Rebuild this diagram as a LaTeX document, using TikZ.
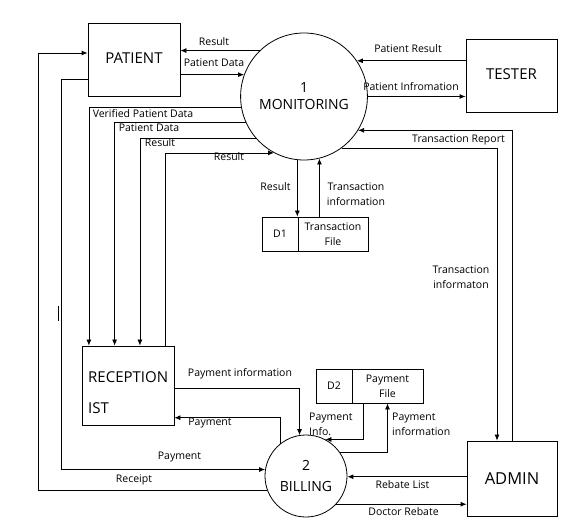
\documentclass[tikz,border=0pt]{standalone}
\usepackage{fontspec}
\setmainfont{Open Sans}
\usetikzlibrary{arrows.meta,shapes.geometric}

\begin{document}
\begin{tikzpicture}[x=1pt,y=-1pt,
		entity/.style={draw,line width=0.8pt,inner sep=0pt,font=\fontsize{15}{18}\selectfont},
		process/.style={draw,ellipse,line width=0.8pt,inner sep=0pt,align=center,font=\fontsize{14}{17}\selectfont},
		store/.style={draw,line width=0.8pt,inner sep=0pt,minimum height=34,align=center,font=\fontsize{10.5}{15}\selectfont},
		lbl/.style={inner sep=0pt,align=center,font=\fontsize{10.5}{15}\selectfont},
		flow/.style={line width=0.8pt,-{Latex[length=6pt,width=5pt]}}]
			\useasboundingbox (0,0) rectangle (573,529);

			% external entities
			\node[entity,minimum width=92,minimum height=73,text depth=3pt] (pat) at (134,59.5) {PATIENT};
			\node[entity,minimum width=91,minimum height=73,text depth=3pt] (tes) at (511.5,75.5) {TESTER};
			\node[entity,minimum width=92,minimum height=79] (rec) at (128,385.5) {};
			\node[lbl,anchor=west,align=left,font=\fontsize{15}{18}\selectfont] (rectext) at (88,392.5) {RECEPTION\\[12.5pt]IST};
			\node[entity,minimum width=90,minimum height=75,font=\fontsize{16.5}{20}\selectfont] (adm) at (512,478.5) {ADMIN};

			% processes
			\node[process,minimum width=116,minimum height=127] (mon) at (304,96.5) {1\\MONITORING};
			\node[process,circle,minimum size=82] (bil) at (306,476) {2\\[4pt]BILLING};

			% data stores
			\node[store,minimum width=36] (d1) at (280,234) {D1};
			\node[store,minimum width=70] (d1f) at (333,234) {Transaction\\File};
			\node[store,minimum width=36] (d2) at (334,386) {D2};
			\node[store,minimum width=71] (d2f) at (387.5,386) {Payment\\File};

			% patient <-> monitoring
			\draw[flow] (mon.134.5) -- (pat.east |- mon.134.5);
			\draw[flow] (pat.east |- mon.160.2) -- (mon.160.2);
			\node[lbl] (lres1) at (214,42) {Result};
			\node[lbl] (lpd1) at (214,63) {Patient Data};

			% tester <-> monitoring
			\draw[flow] (tes.west |- mon.34.5) -- (mon.34.5);
			\draw[flow] (mon.0) -- (tes.west |- mon.0);
			\node[lbl] (lpr) at (408,49) {Patient Result};
			\node[lbl] (lpi) at (411,87) {Patient Infromation};

			% monitoring <-> receptionist
			\draw[flow] (mon.190.1) -| ([xshift=7.3pt]rec.north west);
			\draw[flow] (mon.204.6) -| ([xshift=33pt]rec.north west);
			\draw[flow] (mon.221.8) -| ([xshift=58.3pt]rec.north west);
			\draw[flow] ([xshift=83.7pt]rec.north west) |- (mon.242.5);
			\node[lbl] (lvpd) at (143,113.5) {Verified Patient Data};
			\node[lbl] (lpd2) at (149,128) {Patient Data};
			\node[lbl] (lres2) at (160,143) {Result};
			\node[lbl] (lres3) at (229,157) {Result};

			% monitoring <-> D1
			\draw[flow] (mon.-96.6) -- (mon.-96.6 |- d1.north);
			\draw[flow] (d1f.north -| mon.-76) -- (mon.-76);
			\node[lbl] (lres4) at (275.5,187) {Result};
			\node[lbl] (lti1) at (356,194.5) {Transaction\\information};

			% monitoring <-> admin
			\draw[flow] (adm.north) |- (mon.-32.4);
			\draw[flow] (mon.-54.7) -| ([xshift=-15pt]adm.north);
			\node[lbl] (ltr) at (458.5,140) {Transaction Report};
			\node[lbl] (lti2) at (461,277.5) {Transaction\\informaton};

			% patient <-> billing
			\coordinate (rcpt) at (38,53);
			\coordinate (pay) at (61,79.3);
			\draw[flow] (bil.201) -| (rcpt) -- (pat.west |- rcpt);
			\draw[flow] (pat.west |- pay) -- (pay) |- (bil.171.6);
			\node[lbl] (lrc) at (134,480) {Receipt};
			\node[lbl] (lpay1) at (179.5,457) {Payment};
			\draw[line width=0.8pt] (58,306) -- (58,321);

			% receptionist <-> billing
			\draw[flow] ([yshift=-2.8pt]rec.east) -| (bil.99.8);
			\draw[flow] (bil.129.4) |- ([yshift=-32.2pt]rec.east);
			\node[lbl] (lpinf1) at (240,374) {Payment information};
			\node[lbl] (lpay2) at (210,423) {Payment};

			% billing <-> D2
			\draw[flow] ([xshift=-24.2pt]d2f.south) |- (bil.62);
			\draw[flow] (bil.34.1) -| (d2f.south);
			\node[lbl,anchor=west,align=left] (lpinfo) at (309,424) {Payment\\Info.};
			\node[lbl,anchor=west,align=left] (lpinf2) at (392,424) {Payment\\ information};

			% billing <-> admin
			\draw[flow] (adm.west |- bil.-1) -- (bil.-1);
			\draw[flow] (bil.-43.1) -- (adm.west |- bil.-43.1);
			\node[lbl] (lrl) at (402.5,485) {Rebate List};
			\node[lbl] (ldr) at (403.5,512) {Doctor Rebate};
		\end{tikzpicture}
\end{document}
